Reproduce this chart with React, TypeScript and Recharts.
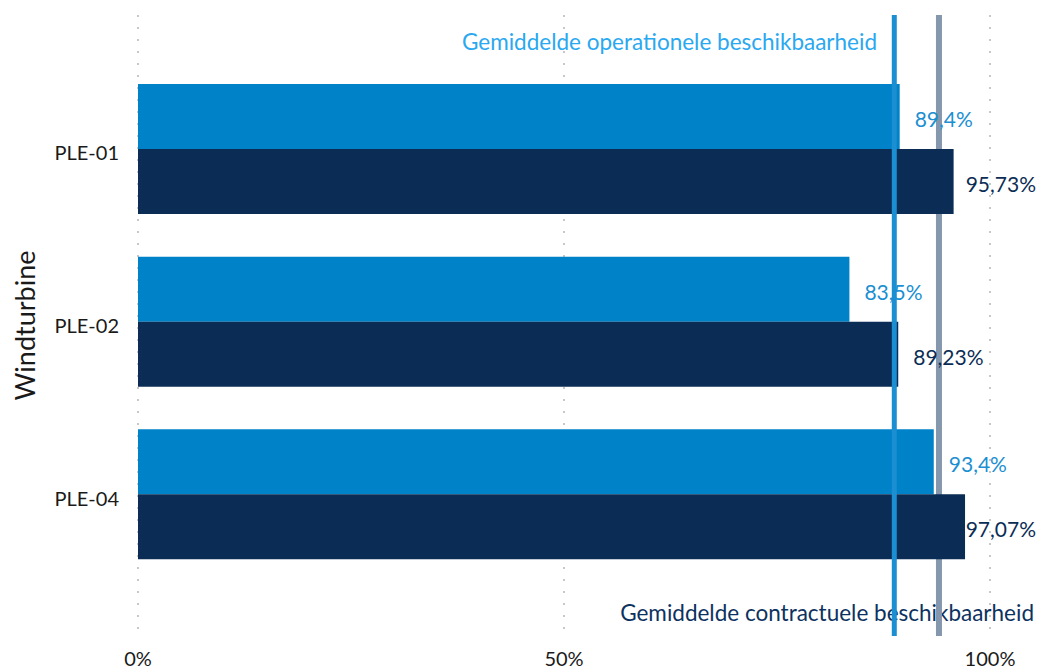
import { BarChart, Bar, XAxis, YAxis, CartesianGrid, ReferenceLine, LabelList, Label } from 'recharts'

const turbines = ['PLE-01', 'PLE-02', 'PLE-04']
const operational = [89.4, 83.5, 93.4]
const contractual = [95.73, 89.23, 97.07]
const xTicks = [0, 50, 100]

const OPER_COLOR = '#0082c8'
const CONTRACT_COLOR = '#0b2d55'
const OPER_LINE = '#1b8fd2'
const CONTRACT_LINE = '#8497ad'
const FONT = 'Lato, "Noto Sans", sans-serif'

const mean = (arr: number[]) => arr.reduce((s, v) => s + v, 0) / arr.length
const avgOper = mean(operational)
const avgContract = mean(contractual)

const data = turbines.map((name, i) => ({
    name,
    operational: operational[i],
    contractual: contractual[i],
}))

const fmt = (v: number) => `${String(v).replace('.', ',')}%`

const valueLabel = (color: string) => (props: any) => {
    const { x, y, width, height, value } = props
    const text = fmt(value)
    const est = text.length * 11.8
    let tx = x + width + 15
    let anchor: 'start' | 'end' = 'start'
    if (tx + est > 1036) {
        tx = 1036
        anchor = 'end'
    }
    return (
        <text x={tx} y={y + height / 2 + 3} dy="0.35em" fill={color} fontSize={21} fontFamily={FONT} textAnchor={anchor}>
            {text}
        </text>
    )
}

const YTick = (props: any) => {
    const { x, y, payload } = props
    return (
        <text x={x - 11} y={y + 4} dy="0.35em" textAnchor="end" fill="#1a1a1a" fontSize={20} fontFamily={FONT}>
            {payload.value}
        </text>
    )
}

const XTick = (props: any) => {
    const { x, y, payload } = props
    return (
        <text x={x} y={y + 8} dy="0.71em" textAnchor="middle" fill="#1a1a1a" fontSize={20} fontFamily={FONT}>
            {payload.value}%
        </text>
    )
}

function App() {
    return (
        <div style={{ position: 'absolute', left: 0, top: 0, background: '#fff' }}>
            <BarChart
                width={1039}
                height={669}
                data={data}
                layout="vertical"
                margin={{ top: 15, right: 49, bottom: 0, left: 0 }}
                barCategoryGap={21}
                barGap={0}
            >
                <CartesianGrid horizontal={false} stroke="#c8c8c8" strokeWidth={2} strokeDasharray="2 10" />
                <XAxis
                    type="number"
                    domain={[0, 100]}
                    ticks={xTicks}
                    height={33}
                    axisLine={false}
                    tickLine={false}
                    tick={<XTick />}
                    interval={0}
                />
                <YAxis
                    type="category"
                    dataKey="name"
                    width={138}
                    axisLine={false}
                    tickLine={false}
                    tick={<YTick />}
                    padding={{ top: 48, bottom: 55 }}
                >
                    <Label
                        content={(p: any) => {
                            const vb = p.viewBox
                            const cx = vb.x + 25.5
                            const cy = vb.y + vb.height / 2
                            return (
                                <text x={cx} y={cy} dy="0.35em" textAnchor="middle" transform={`rotate(-90, ${cx}, ${cy})`} fill="#1a1a1a" fontSize={27} fontFamily={FONT}>
                                    Windturbine
                                </text>
                            )
                        }}
                    />
                </YAxis>
                <ReferenceLine
                    x={avgContract}
                    stroke="none"
                    zIndex={100}
                    label={(p: any) => {
                        const vb = p.viewBox
                        return (
                            <g>
                                <text x={877} y={vb.y + 27} dy="0.35em" textAnchor="end" fill="#2aa8f0" fontSize={22.5} fontFamily={FONT}>
                                    Gemiddelde operationele beschikbaarheid
                                </text>
                                <text x={1034} y={vb.y + vb.height - 23} dy="0.35em" textAnchor="end" fill="#0d3260" fontSize={22.5} fontFamily={FONT}>
                                    Gemiddelde contractuele beschikbaarheid
                                </text>
                            </g>
                        )
                    }}
                />
                <ReferenceLine x={avgContract} stroke={CONTRACT_LINE} strokeWidth={6} zIndex={200} />
                <Bar dataKey="operational" fill={OPER_COLOR} isAnimationActive={false} zIndex={300}>
                    <LabelList dataKey="operational" content={valueLabel('#1b8fd2')} />
                </Bar>
                <Bar dataKey="contractual" fill={CONTRACT_COLOR} isAnimationActive={false} zIndex={300}>
                    <LabelList dataKey="contractual" content={valueLabel(CONTRACT_COLOR)} />
                </Bar>
                <ReferenceLine x={avgOper} stroke={OPER_LINE} strokeWidth={5} zIndex={600} />
            </BarChart>
        </div>
    )
}

export default App
